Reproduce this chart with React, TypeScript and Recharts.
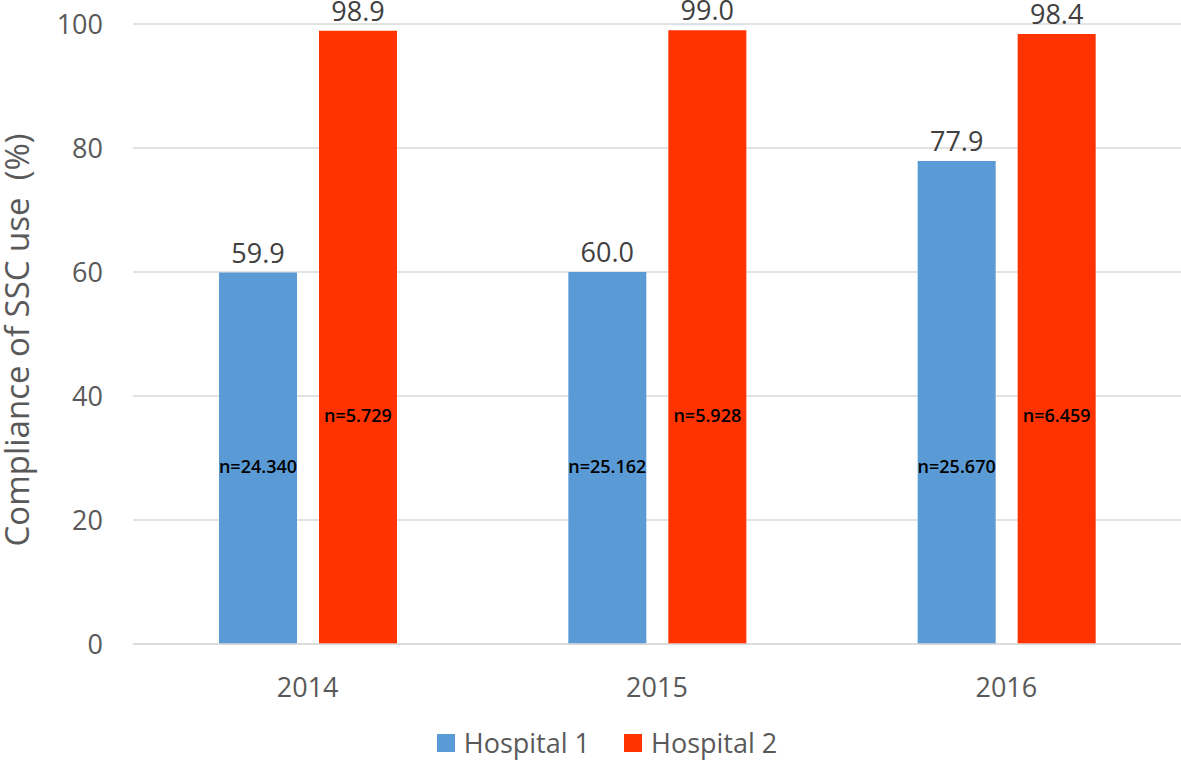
import React from "react";
import { BarChart, Bar, XAxis, YAxis, CartesianGrid, Legend, LabelList } from "recharts";

const years = ["2014", "2015", "2016"];
const hospital1 = [59.9, 60.0, 77.9];
const hospital2 = [98.9, 99.0, 98.4];
const nHospital1 = ["n=24.340", "n=25.162", "n=25.670"];
const nHospital2 = ["n=5.729", "n=5.928", "n=6.459"];
const yTicks = [0, 20, 40, 60, 80, 100];

const BLUE = "#5B9BD5";
const RED = "#FF3300";
const FONT = "'Open Sans', sans-serif";

const data = years.map((year, i) => ({
  year,
  h1: hospital1[i],
  h2: hospital2[i],
  n1: nHospital1[i],
  n2: nHospital2[i],
}));

// n-labels sit at a fixed level (in % units) inside each bar
const nLabel = (level: number, values: number[]) => (props: any) => {
  const { x, y, width, height, value, index } = props;
  const v = values[index];
  const ly = y + height - (level * height) / v;
  return (
    <text
      x={x + width / 2}
      y={ly}
      textAnchor="middle"
      dominantBaseline="central"
      fill="#000"
      fontSize={18}
      fontWeight={600}
      fontFamily={FONT}
    >
      {value}
    </text>
  );
};

const valueLabel = (props: any) => {
  const { x, y, width, value } = props;
  return (
    <text
      x={x + width / 2}
      y={y - 10}
      textAnchor="middle"
      fill="#404040"
      fontSize={27}
      fontFamily={FONT}
    >
      {Number(value).toFixed(1)}
    </text>
  );
};

const YTitle = (props: any) => {
  const { viewBox } = props;
  const cx = 29;
  const cy = viewBox.y + viewBox.height / 2 + 6;
  return (
    <text
      x={cx}
      y={cy}
      transform={`rotate(-90, ${cx}, ${cy})`}
      textAnchor="middle"
      fill="#595959"
      fontSize={33}
      fontFamily={FONT}
      style={{ whiteSpace: "pre" }}
    >
      Compliance of SSC use  (%)
    </text>
  );
};

const LegendContent = () => (
  <div
    style={{
      display: "flex",
      justifyContent: "center",
      alignItems: "center",
      paddingLeft: 33,
      fontFamily: FONT,
      fontSize: 27,
      color: "#595959",
    }}
  >
    {[
      { name: "Hospital 1", color: BLUE },
      { name: "Hospital 2", color: RED },
    ].map((it, i) => (
      <div key={i} style={{ display: "flex", alignItems: "center", marginRight: i === 0 ? 34 : 0 }}>
        <div style={{ width: 18, height: 18, background: it.color, marginRight: 9 }} />
        <span>{it.name}</span>
      </div>
    ))}
  </div>
);

export default function App() {
  return (
    <div style={{ position: "fixed", left: 0, top: 0, width: 1181, height: 772, background: "#fff" }}>
      <BarChart
        width={1181}
        height={772}
        data={data}
        margin={{ top: 24, right: 0, left: 0, bottom: 0 }}
        barSize={78}
        barGap={22}
        style={{ overflow: "visible" }}
      >
        <CartesianGrid vertical={false} stroke="#d9d9d9" strokeWidth={1.5} />
        <XAxis
          dataKey="year"
          height={80}
          axisLine={{ stroke: "#d9d9d9", strokeWidth: 1.5 }}
          tickLine={false}
          tickSize={0}
          tickMargin={34}
          tick={{ fill: "#595959", fontSize: 27, fontFamily: FONT }}
        />
        <YAxis
          width={133}
          domain={[0, 100]}
          ticks={yTicks}
          axisLine={false}
          tickLine={false}
          tickSize={0}
          tickMargin={30}
          tick={{ fill: "#595959", fontSize: 27, fontFamily: FONT }}
          label={{ content: <YTitle /> }}
        />
        <Legend verticalAlign="bottom" height={48} content={<LegendContent />} />
        <Bar dataKey="h1" name="Hospital 1" fill={BLUE} isAnimationActive={false}>
          <LabelList dataKey="h1" content={valueLabel} />
          <LabelList dataKey="n1" content={nLabel(28.7, hospital1)} />
        </Bar>
        <Bar dataKey="h2" name="Hospital 2" fill={RED} isAnimationActive={false}>
          <LabelList dataKey="h2" content={valueLabel} />
          <LabelList dataKey="n2" content={nLabel(37, hospital2)} />
        </Bar>
      </BarChart>
    </div>
  );
}
